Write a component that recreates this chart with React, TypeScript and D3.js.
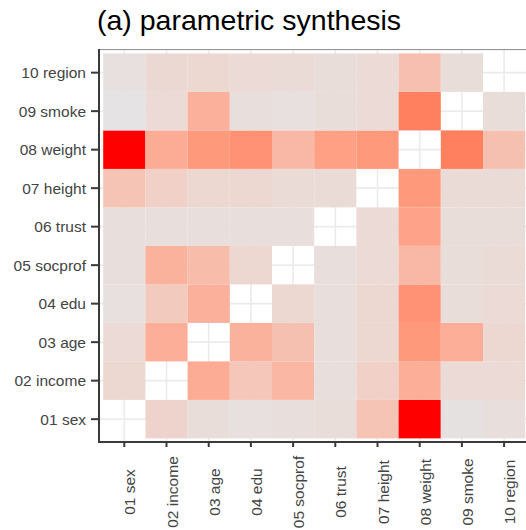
import React from "react";
import * as d3 from "d3";

const vars = [
  "01 sex",
  "02 income",
  "03 age",
  "04 edu",
  "05 socprof",
  "06 trust",
  "07 height",
  "08 weight",
  "09 smoke",
  "10 region",
];

// rows listed from 01 sex up to 10 region, columns 01..10 (null = diagonal)
const sexRow = [null, 0.1, 0.04, 0.02, 0.03, 0.04, 0.2, 1.0, 0.01, 0.03];
const incomeRow = [0.08, null, 0.35, 0.18, 0.28, 0.03, 0.12, 0.33, 0.06, 0.06];
const ageRow = [0.06, 0.33, null, 0.31, 0.22, 0.03, 0.08, 0.46, 0.33, 0.08];
const eduRow = [0.02, 0.16, 0.32, null, 0.08, 0.03, 0.08, 0.5, 0.04, 0.06];
const socprofRow = [0.03, 0.31, 0.25, 0.08, null, 0.03, 0.06, 0.27, 0.04, 0.05];
const trustRow = [0.03, 0.03, 0.03, 0.03, 0.03, null, 0.06, 0.4, 0.04, 0.04];
const heightRow = [0.2, 0.12, 0.08, 0.08, 0.05, 0.05, null, 0.46, 0.05, 0.05];
const weightRow = [1.0, 0.35, 0.46, 0.5, 0.27, 0.42, 0.46, null, 0.6, 0.22];
const smokeRow = [0.0, 0.06, 0.32, 0.03, 0.02, 0.04, 0.06, 0.6, null, 0.04];
const regionRow = [0.02, 0.07, 0.08, 0.06, 0.05, 0.04, 0.06, 0.23, 0.04, null];

const rows = [
  sexRow,
  incomeRow,
  ageRow,
  eduRow,
  socprofRow,
  trustRow,
  heightRow,
  weightRow,
  smokeRow,
  regionRow,
];

const title = "(a) parametric synthesis";

export default function App() {
  const width = 526;
  const height = 530;
  const panel = { left: 99, top: 49.6, right: 529, bottom: 442 };

  const x = d3.scaleBand<string>().domain(vars).range([103.2, 103.2 + 422]);
  const y = d3
    .scaleBand<string>()
    .domain([...vars].reverse())
    .range([53.4, 53.4 + 385]);

  const color = d3
    .scaleLinear<string>()
    .domain([0, 1])
    .range(["#e5e3e3", "#ff0000"])
    .interpolate(d3.interpolateLab);

  const cells = [];
  rows.forEach((row, ri) => {
    row.forEach((v, ci) => {
      if (v !== null) cells.push({ yv: vars[ri], xv: vars[ci], v });
    });
  });

  const font = "'Liberation Sans', Arial, sans-serif";

  return (
    <svg
      width={width}
      height={height}
      style={{ position: "absolute", left: 0, top: 0, background: "#fff" }}
    >
      <text x={97} y={30} fontSize={28.5} fontFamily={font} fill="#000">
        {title}
      </text>

      {/* grid */}
      <g stroke="#ebebeb" strokeWidth={1.6}>
        {vars.map((d) => (
          <line
            key={"gx" + d}
            x1={x(d)! + x.bandwidth() / 2}
            x2={x(d)! + x.bandwidth() / 2}
            y1={panel.top}
            y2={panel.bottom}
          />
        ))}
        {vars.map((d) => (
          <line
            key={"gy" + d}
            y1={y(d)! + y.bandwidth() / 2}
            y2={y(d)! + y.bandwidth() / 2}
            x1={panel.left}
            x2={panel.right}
          />
        ))}
      </g>

      {/* tiles */}
      <g>
        {cells.map((c, i) => (
          <rect
            key={i}
            x={x(c.xv)}
            y={y(c.yv)}
            width={x.bandwidth()}
            height={y.bandwidth()}
            fill={color(c.v)}
          />
        ))}
      </g>

      {/* panel border / axes */}
      <line
        x1={panel.left}
        x2={panel.right}
        y1={panel.top}
        y2={panel.top}
        stroke="#8a8a8a"
        strokeWidth={1}
      />
      <line
        x1={panel.left}
        x2={panel.left}
        y1={panel.top - 0.5}
        y2={panel.bottom + 1}
        stroke="#3a3a3a"
        strokeWidth={2}
      />
      <line
        x1={panel.left - 1}
        x2={panel.right}
        y1={panel.bottom}
        y2={panel.bottom}
        stroke="#3a3a3a"
        strokeWidth={2}
      />

      {/* y axis */}
      {vars.map((d) => {
        const cy = y(d)! + y.bandwidth() / 2;
        return (
          <g key={"ya" + d}>
            <line
              x1={91}
              x2={panel.left}
              y1={cy}
              y2={cy}
              stroke="#3a3a3a"
              strokeWidth={2}
            />
            <text
              x={86}
              y={cy}
              dy="0.36em"
              textAnchor="end"
              fontSize={15.5}
              fontFamily={font}
              fill="#444"
            >
              {d}
            </text>
          </g>
        );
      })}

      {/* x axis */}
      {vars.map((d) => {
        const cx = x(d)! + x.bandwidth() / 2;
        return (
          <g key={"xa" + d}>
            <line
              x1={cx}
              x2={cx}
              y1={panel.bottom}
              y2={panel.bottom + 5}
              stroke="#3a3a3a"
              strokeWidth={2}
            />
            <text
              transform={`translate(${cx + 11},492) rotate(-90)`}
              textAnchor="middle"
              fontSize={15.5}
              fontFamily={font}
              fill="#444"
            >
              {d}
            </text>
          </g>
        );
      })}
    </svg>
  );
}
